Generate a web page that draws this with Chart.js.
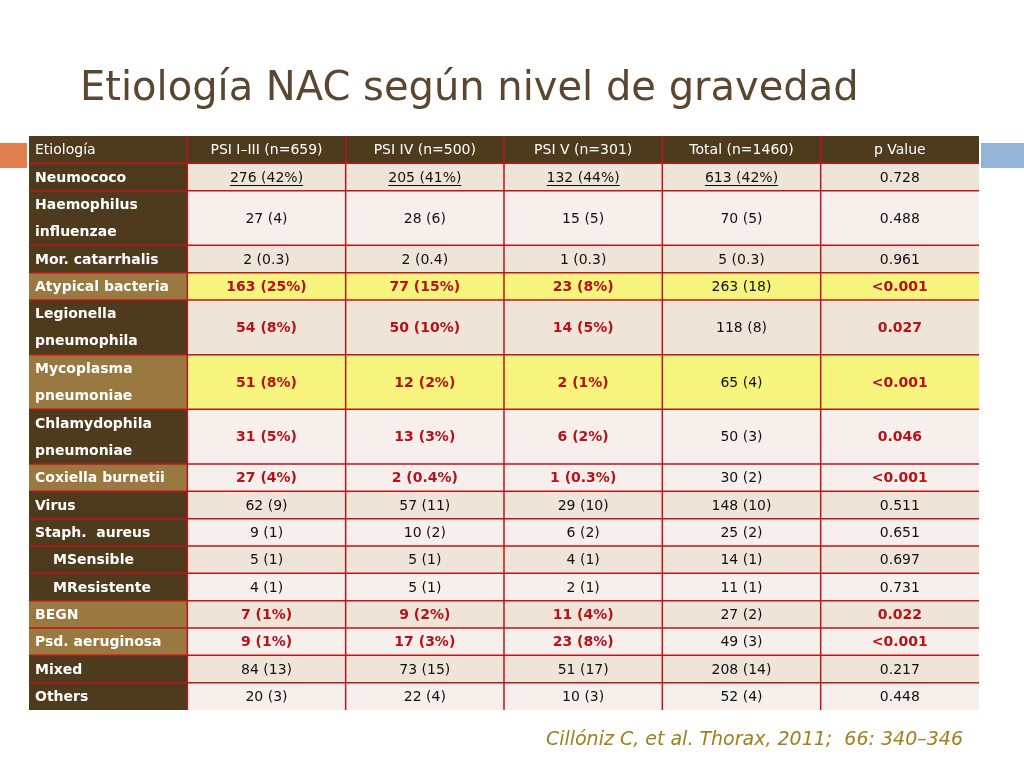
<!DOCTYPE html>
<html>
<head>
<meta charset="utf-8">
<script src="https://cdn.jsdelivr.net/npm/chart.js@4.4.0/dist/chart.umd.min.js"></script>
<style>
  html, body { margin: 0; padding: 0; background: #fff; }
  #wrap { width: 1024px; height: 768px; position: relative; }
</style>
</head>
<body>
<div id="wrap"><canvas id="myChart" width="1024" height="768"></canvas></div>
<script>
// table content
const headers = ['Etiología', 'PSI I–III (n=659)', 'PSI IV (n=500)', 'PSI V (n=301)', 'Total (n=1460)', 'p Value'];
const labels = ['Neumococo', 'Haemophilus\ninfluenzae', 'Mor. catarrhalis', 'Atypical bacteria', 'Legionella\npneumophila',
  'Mycoplasma\npneumoniae', 'Chlamydophila\npneumoniae', 'Coxiella burnetii', 'Virus', 'Staph.  aureus',
  '   MSensible', '   MResistente', 'BEGN', 'Psd. aeruginosa', 'Mixed', 'Others'];
const psi13 = ['276 (42%)', '27 (4)', '2 (0.3)', '163 (25%)', '54 (8%)', '51 (8%)', '31 (5%)', '27 (4%)', '62 (9)', '9 (1)', '5 (1)', '4 (1)', '7 (1%)', '9 (1%)', '84 (13)', '20 (3)'];
const psi4 = ['205 (41%)', '28 (6)', '2 (0.4)', '77 (15%)', '50 (10%)', '12 (2%)', '13 (3%)', '2 (0.4%)', '57 (11)', '10 (2)', '5 (1)', '5 (1)', '9 (2%)', '17 (3%)', '73 (15)', '22 (4)'];
const psi5 = ['132 (44%)', '15 (5)', '1 (0.3)', '23 (8%)', '14 (5%)', '2 (1%)', '6 (2%)', '1 (0.3%)', '29 (10)', '6 (2)', '4 (1)', '2 (1)', '11 (4%)', '23 (8%)', '51 (17)', '10 (3)'];
const totals = ['613 (42%)', '70 (5)', '5 (0.3)', '263 (18)', '118 (8)', '65 (4)', '50 (3)', '30 (2)', '148 (10)', '25 (2)', '14 (1)', '11 (1)', '27 (2)', '49 (3)', '208 (14)', '52 (4)'];
const pValues = ['0.728', '0.488', '0.961', '<0.001', '0.027', '<0.001', '0.046', '<0.001', '0.511', '0.651', '0.697', '0.731', '0.022', '<0.001', '0.217', '0.448'];
const rowSpan = [1, 2, 1, 1, 2, 2, 2, 1, 1, 1, 1, 1, 1, 1, 1, 1];
const significant = [false, false, false, true, true, true, true, true, false, false, false, false, true, true, false, false];
const lightLabel = [false, false, false, true, false, true, false, true, false, false, false, false, true, true, false, false];
const yellowRow = [false, false, false, true, false, true, false, false, false, false, false, false, false, false, false, false];
const stripe = [0, 1, 0, 0, 0, 0, 1, 1, 0, 1, 0, 1, 0, 1, 0, 1];

const columns = [psi13, psi4, psi5, totals, pValues];
const totalUnits = 1 + rowSpan.reduce((a, b) => a + b, 0);
const font = '"DejaVu Sans", sans-serif';

const tablePlugin = {
  id: 'tablePlugin',
  afterDraw(chart) {
    const ctx = chart.ctx;
    const xs = chart.scales.x, ys = chart.scales.y;
    const X = v => xs.getPixelForValue(v), Y = v => ys.getPixelForValue(v);
    ctx.save();
    // decorations
    ctx.fillStyle = '#e0804f'; ctx.fillRect(0, 143, 27, 25);
    ctx.fillStyle = '#95b3d7'; ctx.fillRect(981, 143, 43, 25);
    ctx.fillStyle = '#5b4630';
    ctx.font = '40px "DejaVu Sans", sans-serif';
    ctx.textBaseline = 'alphabetic';
    ctx.fillText('Etiología NAC según nivel de gravedad', 80, 100);

    // header
    ctx.fillStyle = '#4e3b1e';
    ctx.fillRect(X(0), Y(0), X(6) - X(0), Y(1) - Y(0));
    ctx.textBaseline = 'middle';
    ctx.font = '14px ' + font;
    ctx.fillStyle = '#ffffff';
    headers.forEach((h, c) => {
      ctx.textAlign = c === 0 ? 'left' : 'center';
      const tx = c === 0 ? X(0) + 6 : (X(c) + X(c + 1)) / 2;
      ctx.fillText(h, tx, (Y(0) + Y(1)) / 2 + 1);
    });

    let u = 1;
    labels.forEach((lab, r) => {
      const y0 = Y(u), y1 = Y(u + rowSpan[r]), ym = (y0 + y1) / 2;
      ctx.fillStyle = lightLabel[r] ? '#9a7940' : '#4e3b1e';
      ctx.fillRect(X(0), y0, X(1) - X(0), y1 - y0);
      ctx.fillStyle = yellowRow[r] ? '#f6f47c' : (stripe[r] ? '#f7efeb' : '#efe4d8');
      ctx.fillRect(X(1), y0, X(6) - X(1), y1 - y0);
      // label text
      ctx.fillStyle = '#ffffff';
      ctx.textAlign = 'left';
      ctx.font = 'bold 14px ' + font;
      const parts = lab.split('\n');
      parts.forEach((p, i) => {
        const off = (i - (parts.length - 1) / 2) * 27;
        ctx.fillText(p.trimStart(), X(0) + 6 + (p.startsWith(' ') ? 18 : 0), ym + off + 1);
      });
      // values
      columns.forEach((col, c) => {
        const red = significant[r] && c !== 3;
        ctx.fillStyle = red ? '#b5121b' : '#111111';
        ctx.font = (red ? 'bold ' : '') + '14px ' + font;
        ctx.textAlign = 'center';
        const cx = (X(c + 1) + X(c + 2)) / 2;
        ctx.fillText(col[r], cx, ym + 1);
        if (r === 0 && c < 4) {
          const w = ctx.measureText(col[r]).width;
          ctx.fillRect(cx - w / 2, ym + 8, w, 1);
        }
      });
      u += rowSpan[r];
    });

    // grid lines
    ctx.strokeStyle = '#c0141c';
    ctx.lineWidth = 1.5;
    u = 1;
    ctx.beginPath();
    for (let r = 0; r <= labels.length; r++) {
      if (r < labels.length) {
        ctx.moveTo(X(0), Y(u)); ctx.lineTo(X(6), Y(u));
        u += rowSpan[r];
      }
    }
    for (let c = 1; c < 6; c++) {
      ctx.moveTo(X(c), Y(0)); ctx.lineTo(X(c), Y(totalUnits));
    }
    ctx.stroke();

    // citation
    ctx.fillStyle = '#a07f1a';
    ctx.font = 'italic 19px ' + font;
    ctx.textAlign = 'right';
    ctx.textBaseline = 'alphabetic';
    ctx.fillText('Cillóniz C, et al. Thorax, 2011;  66: 340–346', 963, 745);
    ctx.restore();
  }
};

const config = {
  type: 'scatter',
  data: { datasets: [{ data: [], pointRadius: 0 }] },
  options: {
    responsive: false,
    animation: false,
    events: [],
    layout: { padding: { left: 29, right: 45, top: 136, bottom: 58 } },
    scales: {
      x: { type: 'linear', min: 0, max: 6, display: false,
        afterFit: s => {} },
      y: { type: 'linear', min: 0, max: totalUnits, reverse: true, display: false }
    },
    plugins: { legend: { display: false }, tooltip: { enabled: false } }
  },
  plugins: [tablePlugin]
};

var chartInstance = new Chart(document.getElementById('myChart'), config);
</script>
</body>
</html>
